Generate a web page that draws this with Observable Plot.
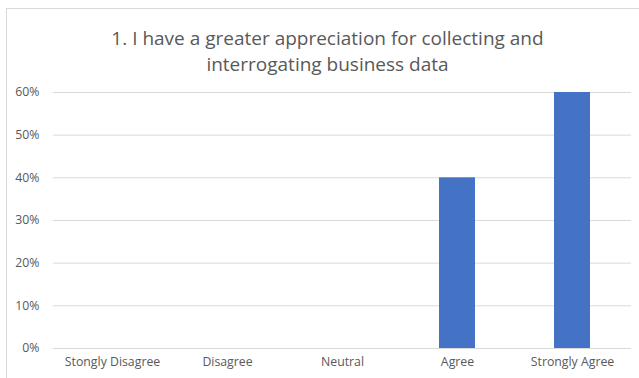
<!DOCTYPE html>
<html>
<head>
<meta charset="utf-8">
<script src="https://cdn.jsdelivr.net/npm/d3@7"></script>
<script src="https://cdn.jsdelivr.net/npm/@observablehq/plot@0.6"></script>
<style>
  html, body { margin: 0; padding: 0; background: #fff; }
  #wrap { position: relative; width: 639px; height: 378px; overflow: hidden; background: #fff; }
  #frame { position: absolute; left: 6px; top: 8px; width: 660px; height: 400px; border: 1px solid #d9d9d9; box-sizing: border-box; }
  #title { position: absolute; left: 0; width: 655px; top: 25px; text-align: center;
           font-family: "Open Sans", sans-serif; font-size: 19px; line-height: 26px; color: #595959; }
  #chart { position: absolute; left: 0; top: 0; }
</style>
</head>
<body>
<div id="wrap">
  <div id="frame"></div>
  <div id="chart"></div>
  <div id="title">1. I have a greater appreciation for collecting and<br>interrogating business data</div>
</div>
<script>
const categories = ["Stongly Disagree", "Disagree", "Neutral", "Agree", "Strongly Agree"];
const shares = [0, 0, 0, 0.40, 0.60];
const yTicks = [0, 0.1, 0.2, 0.3, 0.4, 0.5, 0.6];

const data = categories.map((c, i) => ({category: c, share: shares[i]}));

const chart = Plot.plot({
  width: 639,
  height: 378,
  marginTop: 92,
  marginBottom: 30,
  marginLeft: 53,
  marginRight: 8,
  style: {fontFamily: "Open Sans, sans-serif", fontSize: "12.3px", color: "#595959", background: "transparent"},
  x: {domain: categories, paddingInner: 0.687, paddingOuter: 0.3435, label: null, tickSize: 0, tickPadding: 9},
  y: {domain: [0, 0.6], ticks: yTicks, tickFormat: d3.format(".0%"), label: null, tickSize: 0, tickPadding: 14},
  marks: [
    Plot.ruleY(yTicks, {stroke: "#d9d9d9", strokeWidth: 1}),
    Plot.barY(data, {x: "category", y: "share", fill: "#4472c4"}),
    Plot.axisY({ticks: yTicks, tickFormat: d3.format(".0%"), tickSize: 0, tickPadding: 14, label: null, fill: "#595959"}),
    Plot.axisX({tickSize: 0, tickPadding: 9, label: null, fill: "#595959"})
  ]
});
document.getElementById("chart").appendChild(chart);
</script>
</body>
</html>
